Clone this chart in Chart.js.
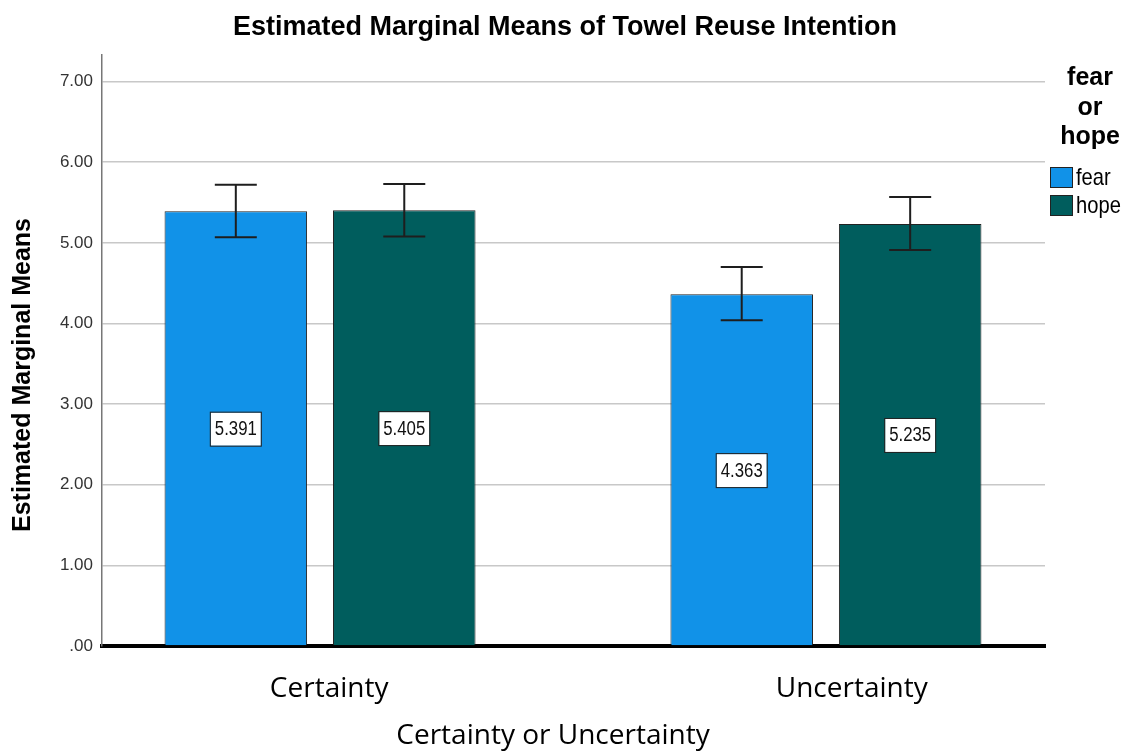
<!DOCTYPE html>
<html>
<head>
<meta charset="utf-8">
<title>Estimated Marginal Means of Towel Reuse Intention</title>
<script src="https://cdn.jsdelivr.net/npm/chart.js@4.4.1/dist/chart.umd.min.js"></script>
<style>
  html, body { margin: 0; padding: 0; background: #fff; }
  canvas { display: block; }
</style>
</head>
<body>
<canvas id="emmChart" width="1125" height="751"></canvas>
<script>
const categories = ["Certainty", "Uncertainty"];
const groups = ["fear", "hope"];
const fearMeans = [5.391, 4.363];
const hopeMeans = [5.405, 5.235];
// 95% CI ends
const fearLower = [5.07, 4.04];
const fearUpper = [5.72, 4.70];
const hopeLower = [5.08, 4.91];
const hopeUpper = [5.73, 5.57];
const yTicks = [0, 1, 2, 3, 4, 5, 6, 7];

const colors = ["#1192e8", "#005d5d"];
const sans = "'Liberation Sans', Arial, sans-serif";

function toPoints(values) {
  return values.map((v, i) => ({ x: i, y: v }));
}

// SPSS text is narrower than Arial, squeeze it a bit
function narrowText(ctx, text, x, y, squeeze) {
  ctx.save();
  ctx.translate(x, y);
  ctx.scale(squeeze, 1);
  ctx.fillText(text, 0, 0);
  ctx.restore();
}

const errorBarPlugin = {
  id: "errorBars",
  afterDatasetsDraw(chart) {
    const ctx = chart.ctx;
    const yScale = chart.scales.y;
    const bounds = [
      [fearLower, fearUpper],
      [hopeLower, hopeUpper],
    ];
    chart.data.datasets.forEach((ds, di) => {
      const meta = chart.getDatasetMeta(di);
      meta.data.forEach((bar, i) => {
        const top = yScale.getPixelForValue(bounds[di][1][i]);
        const bottom = yScale.getPixelForValue(bounds[di][0][i]);
        ctx.save();
        ctx.strokeStyle = "#1e1e1e";
        ctx.lineWidth = 2;
        ctx.beginPath();
        ctx.moveTo(bar.x, top);
        ctx.lineTo(bar.x, bottom);
        ctx.moveTo(bar.x - 21, top);
        ctx.lineTo(bar.x + 21, top);
        ctx.moveTo(bar.x - 21, bottom);
        ctx.lineTo(bar.x + 21, bottom);
        ctx.stroke();

        // value box halfway up the bar
        const value = ds.data[i].y;
        const midY = yScale.getPixelForValue(value / 2);
        ctx.fillStyle = "#fff";
        ctx.fillRect(bar.x - 25, midY - 16, 50, 33);
        ctx.strokeStyle = "#222";
        ctx.lineWidth = 1;
        ctx.strokeRect(bar.x - 25.5, midY - 16.5, 51, 34);
        ctx.fillStyle = "#111";
        ctx.font = "20px " + sans;
        ctx.textAlign = "center";
        ctx.textBaseline = "middle";
        narrowText(ctx, value.toFixed(3), bar.x, midY + 1, 0.84);
        ctx.restore();
      });
    });
  },
};

const textPlugin = {
  id: "chartTexts",
  afterDraw(chart) {
    const ctx = chart.ctx;
    ctx.save();
    ctx.fillStyle = "#000";
    ctx.textAlign = "center";
    ctx.textBaseline = "middle";

    ctx.font = "bold 27px " + sans;
    ctx.fillText("Estimated Marginal Means of Towel Reuse Intention", 565, 28);

    ctx.font = "28px 'Open Sans', sans-serif";
    ctx.fillText("Certainty or Uncertainty", 553, 736);

    ctx.save();
    ctx.translate(23, 375);
    ctx.rotate(-Math.PI / 2);
    ctx.font = "bold 25px " + sans;
    ctx.fillText("Estimated Marginal Means", 0, 0);
    ctx.restore();

    // legend
    ctx.font = "bold 25px " + sans;
    ctx.fillText("fear", 1090, 78);
    ctx.fillText("or", 1090, 108);
    ctx.fillText("hope", 1090, 137);
    ctx.textAlign = "left";
    ctx.font = "24px " + sans;
    groups.forEach((g, i) => {
      const y = 167 + i * 28;
      ctx.fillStyle = colors[i];
      ctx.fillRect(1050, y, 23, 21);
      ctx.strokeStyle = "#222";
      ctx.lineWidth = 1;
      ctx.strokeRect(1050.5, y + 0.5, 22, 20);
      ctx.fillStyle = "#000";
      narrowText(ctx, g, 1076, y + 11, 0.84);
    });
    ctx.restore();
  },
};

new Chart(document.getElementById("emmChart"), {
  type: "bar",
  data: {
    datasets: [
      {
        label: groups[0],
        data: toPoints(fearMeans),
        backgroundColor: colors[0],
        borderColor: "#222",
        borderWidth: 1,
      },
      {
        label: groups[1],
        data: toPoints(hopeMeans),
        backgroundColor: colors[1],
        borderColor: "#222",
        borderWidth: 1,
      },
    ],
  },
  options: {
    responsive: false,
    animation: false,
    devicePixelRatio: 1,
    categoryPercentage: 0.666,
    barPercentage: 0.846,
    layout: { padding: { top: 55, right: 80, left: 0, bottom: 0 } },
    plugins: {
      legend: { display: false },
      title: { display: false },
      tooltip: { enabled: false },
    },
    scales: {
      x: {
        type: "linear",
        offset: false,
        min: -0.431,
        max: 1.433,
        grid: { display: false, drawTicks: false },
        border: { color: "#000", width: 4 },
        afterBuildTicks: (axis) => {
          // SPSS puts the category labels a little right of the bar groups
          axis.ticks = [{ value: 0.018 }, { value: 1.051 }];
        },
        afterFit: (axis) => {
          axis.height = 105;
        },
        ticks: {
          padding: 26,
          color: "#000",
          maxRotation: 0,
          autoSkip: false,
          font: { family: "'Open Sans', sans-serif", size: 28 },
          callback: (value, index) => categories[index],
        },
      },
      y: {
        min: 0,
        max: 7.33,
        afterBuildTicks: (axis) => {
          axis.ticks = yTicks.map((v) => ({ value: v }));
        },
        afterFit: (axis) => {
          axis.width = 102;
        },
        grid: {
          drawTicks: false,
          lineWidth: 1.5,
          color: (c) => (c.tick && c.tick.value === 0 ? "rgba(0,0,0,0)" : "#c8c8c8"),
        },
        border: { color: "#777", width: 1.5 },
        ticks: {
          padding: 9,
          color: "#333",
          font: { family: sans, size: 17 },
          callback: (value) => (value === 0 ? ".00" : value.toFixed(2)),
        },
      },
    },
  },
  plugins: [errorBarPlugin, textPlugin],
});
</script>
</body>
</html>
